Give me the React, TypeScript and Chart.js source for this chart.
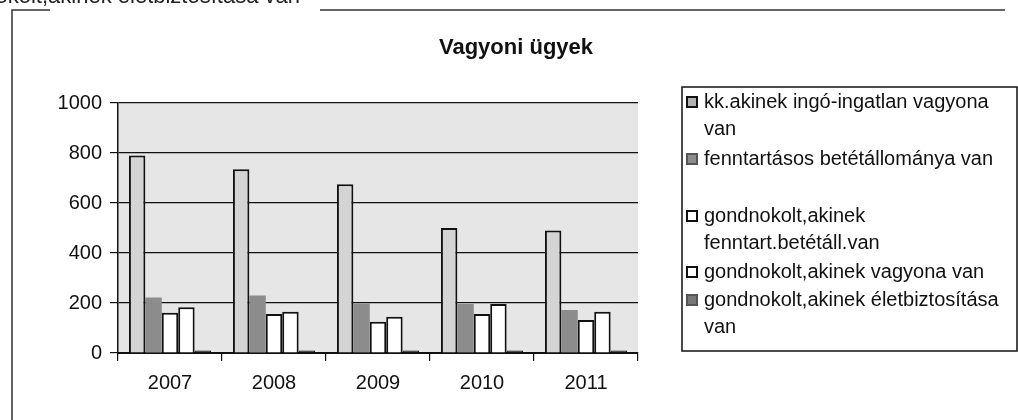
import React, { useEffect, useRef } from "react";
import { Chart, registerables } from "chart.js";

Chart.register(...registerables);

const categories = ["2007", "2008", "2009", "2010", "2011"];
const seriesLabels: string[][] = [
  ["kk.akinek ingó-ingatlan vagyona", "van"],
  ["fenntartásos betétállománya van"],
  ["gondnokolt,akinek", "fenntart.betétáll.van"],
  ["gondnokolt,akinek vagyona van"],
  ["gondnokolt,akinek életbiztosítása", "van"],
];
const seriesIngatlan = [790, 735, 675, 500, 490];
const seriesBetet = [222, 230, 198, 196, 172];
const seriesGondBetet = [161, 156, 125, 156, 132];
const seriesGondVagyon = [183, 165, 145, 196, 165];
const seriesGondElet = [10, 10, 10, 10, 10];
const yTicks = [0, 200, 400, 600, 800, 1000];
const chartTitle = "Vagyoni ügyek";
const clippedHeader = "gondnokolt,akinek életbiztosítása van";

const FONT = "'Liberation Sans', Arial, Helvetica, sans-serif";

const fills = ["#d4d4d4", "#8c8c8c", "#ffffff", "#ffffff", "#222222"];
const legendFills = ["#b0b0b0", "#8c8c8c", "#ffffff", "#ffffff", "#777777"];
const borders = ["#111111", "#8c8c8c", "#111111", "#111111", "#111111"];
const borderWidths = [2, 0, 2, 2, 1];

const values = [seriesIngatlan, seriesBetet, seriesGondBetet, seriesGondVagyon, seriesGondElet];

const decorPlugin = {
  id: "decor",
  beforeDraw(chart: any) {
    const { ctx, chartArea } = chart;
    ctx.save();
    ctx.fillStyle = "#ffffff";
    ctx.fillRect(0, 0, chart.width, chart.height);
    ctx.fillStyle = "#e6e6e6";
    ctx.fillRect(chartArea.left, chartArea.top, chartArea.right - chartArea.left, chartArea.bottom - chartArea.top);
    // outer frame
    ctx.strokeStyle = "#333333";
    ctx.lineWidth = 1.5;
    ctx.beginPath();
    ctx.moveTo(12, 420);
    ctx.lineTo(12, 10);
    ctx.lineTo(50, 10);
    ctx.moveTo(320, 10);
    ctx.lineTo(1005, 10);
    ctx.stroke();
    // clipped header text
    ctx.fillStyle = "#222";
    ctx.font = `22px ${FONT}`;
    ctx.textAlign = "right";
    ctx.textBaseline = "alphabetic";
    ctx.fillText(clippedHeader, 300, 3);
    ctx.restore();
  },
  afterDraw(chart: any) {
    const { ctx } = chart;
    ctx.save();
    ctx.fillStyle = "#111";
    ctx.font = `bold 22px ${FONT}`;
    ctx.textAlign = "center";
    ctx.textBaseline = "middle";
    ctx.fillText(chartTitle, 516, 48);
    // legend
    ctx.strokeStyle = "#111";
    ctx.lineWidth = 1.5;
    ctx.strokeRect(682, 87, 335, 264);
    const baselines = [108, 165, 222, 278, 306];
    const lineH = 27;
    ctx.font = `20px ${FONT}`;
    ctx.textAlign = "left";
    ctx.textBaseline = "alphabetic";
    chart.data.datasets.forEach((ds: any, i: number) => {
      const b = baselines[i];
      ctx.fillStyle = legendFills[i];
      ctx.fillRect(687, b - 11, 10, 10);
      ctx.strokeStyle = i === 1 || i === 4 ? "#555" : "#111";
      ctx.lineWidth = 2;
      ctx.strokeRect(687, b - 11, 10, 10);
      ctx.fillStyle = "#111";
      (ds.lines as string[]).forEach((ln, k) => {
        ctx.fillText(ln, 704, b + k * lineH);
      });
    });
    ctx.restore();
  },
};

export default function App() {
  const ref = useRef<HTMLCanvasElement>(null);
  useEffect(() => {
    if (!ref.current) return;
    const chart = new Chart(ref.current, {
      type: "bar",
      data: {
        labels: categories,
        datasets: values.map((v, i) => ({
          label: seriesLabels[i].join(" "),
          lines: seriesLabels[i],
          data: v,
          backgroundColor: fills[i],
          borderColor: borders[i],
          borderWidth: borderWidths[i],
          borderSkipped: "bottom",
          categoryPercentage: 0.79,
          barPercentage: 1.0,
        })) as any,
      },
      options: {
        animation: false,
        responsive: false,
        maintainAspectRatio: false,
        layout: { padding: { left: 0, top: 103, right: 380, bottom: 0 } },
        plugins: {
          legend: { display: false },
          title: { display: false },
          tooltip: { enabled: false },
        },
        scales: {
          x: {
            afterFit: (s: any) => {
              s.height = 67;
            },
            grid: {
              display: true,
              drawOnChartArea: false,
              drawTicks: true,
              tickLength: 8,
              color: "#111",
              lineWidth: 1.2,
            },
            border: { display: true, color: "#111", width: 2 },
            ticks: {
              color: "#111",
              font: { family: FONT, size: 20 },
              padding: 10,
            },
          },
          y: {
            min: 0,
            max: 1000,
            afterFit: (s: any) => {
              s.width = 118;
            },
            afterBuildTicks: (s: any) => {
              s.ticks = yTicks.map((v) => ({ value: v }));
            },
            grid: {
              display: true,
              drawTicks: true,
              tickLength: 8,
              color: "#111",
              lineWidth: 1.2,
            },
            border: { display: true, color: "#111", width: 1.5 },
            ticks: {
              color: "#111",
              font: { family: FONT, size: 20 },
              padding: 8,
              callback: (v: any) => String(v),
            },
          },
        },
      },
      plugins: [decorPlugin],
    });
    return () => chart.destroy();
  }, []);
  return (
    <div style={{ position: "fixed", left: 0, top: 0, width: 1018, height: 420, background: "#fff" }}>
      <canvas ref={ref} width={1018} height={420} style={{ width: 1018, height: 420, display: "block" }} />
    </div>
  );
}
